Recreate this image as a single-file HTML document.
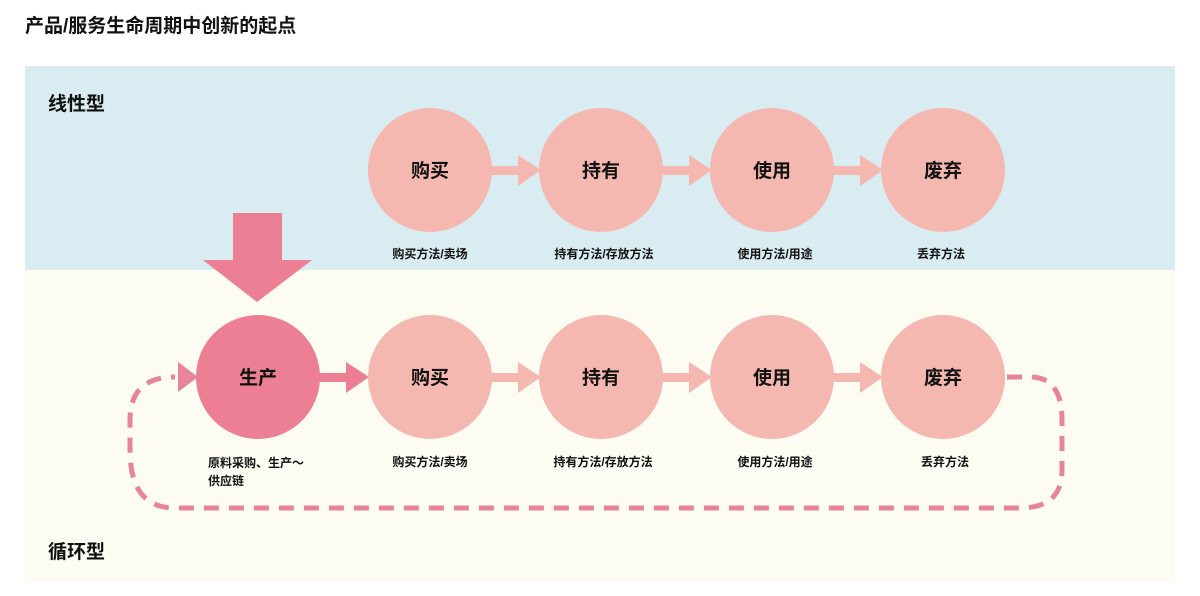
<!DOCTYPE html>
<html><head><meta charset="utf-8"><style>
body{margin:0;background:#fff;width:1200px;height:596px;position:relative;overflow:hidden;font-family:"Liberation Sans","Noto Sans CJK SC",sans-serif;}
</style></head><body>
<svg width="1200" height="596" style="position:absolute;left:0;top:0" font-family="Liberation Sans, Noto Sans CJK SC, sans-serif">
<rect x="0" y="0" width="1200" height="596" fill="#fff"/>
<rect x="25" y="66" width="1150" height="204" fill="#d8ecf1"/>
<rect x="25" y="270" width="1150" height="312" fill="#fcfcf3"/>
<text x="25" y="32" font-size="19" font-weight="bold" fill="#111">产品/服务生命周期中创新的起点</text>
<text x="48" y="110" font-size="19" font-weight="bold" fill="#111">线性型</text>
<text x="48" y="558" font-size="19" font-weight="bold" fill="#111">循环型</text>
<!-- dashed loop -->
<path d="M1007,377 L1030,377 Q1062,377 1062,420 L1062,470 Q1062,508 1020,508 L175,508 Q130,508 130,450 L130,420 Q130,377 175,377" fill="none" stroke="#e8849a" stroke-width="5" stroke-dasharray="15 10"/>
<polygon points="178,362 198,377 178,392" fill="#e8849a"/>
<!-- top arrows -->
<g fill="#f4b8b0">
<rect x="490" y="166" width="30" height="9"/><polygon points="518,155 541,170 518,186"/>
<rect x="661" y="166" width="30" height="9"/><polygon points="689,155 712,170 689,186"/>
<rect x="832" y="166" width="30" height="9"/><polygon points="860,155 883,170 860,186"/>
<rect x="490" y="373" width="30" height="9"/><polygon points="518,362 541,377 518,393"/>
<rect x="661" y="373" width="30" height="9"/><polygon points="689,362 712,377 689,393"/>
<rect x="832" y="373" width="30" height="9"/><polygon points="860,362 883,377 860,393"/>
</g>
<g fill="#ec7f93">
<rect x="318" y="373" width="30" height="9"/><polygon points="346,362 369,377 346,393"/>
<rect x="233" y="213" width="49" height="48"/><polygon points="203,260 312,260 257,302"/>
</g>
<g fill="#f4b8b0">
<circle cx="430" cy="170" r="62"/><circle cx="601" cy="170" r="62"/><circle cx="772" cy="170" r="62"/><circle cx="943" cy="170" r="62"/>
<circle cx="430" cy="377" r="62"/><circle cx="601" cy="377" r="62"/><circle cx="772" cy="377" r="62"/><circle cx="943" cy="377" r="62"/>
</g>
<circle cx="258" cy="377" r="62" fill="#ec7f93"/>
<g font-size="19" font-weight="bold" fill="#111" text-anchor="middle">
<text x="430" y="177">购买</text><text x="601" y="177">持有</text><text x="772" y="177">使用</text><text x="943" y="177">废弃</text>
<text x="258" y="384">生产</text><text x="430" y="384">购买</text><text x="601" y="384">持有</text><text x="772" y="384">使用</text><text x="943" y="384">废弃</text>
</g>
<g font-size="12" font-weight="bold" fill="#111" text-anchor="middle">
<text x="430" y="258">购买方法/卖场</text><text x="604" y="258">持有方法/存放方法</text><text x="775" y="258">使用方法/用途</text><text x="941" y="258">丢弃方法</text>
<text x="430" y="466">购买方法/卖场</text><text x="603" y="466">持有方法/存放方法</text><text x="775" y="466">使用方法/用途</text><text x="945" y="466">丢弃方法</text>
</g>
<g font-size="12" font-weight="bold" fill="#111">
<text x="208" y="467">原料采购、生产～</text><text x="208" y="485">供应链</text>
</g>
</svg>
</body></html>
